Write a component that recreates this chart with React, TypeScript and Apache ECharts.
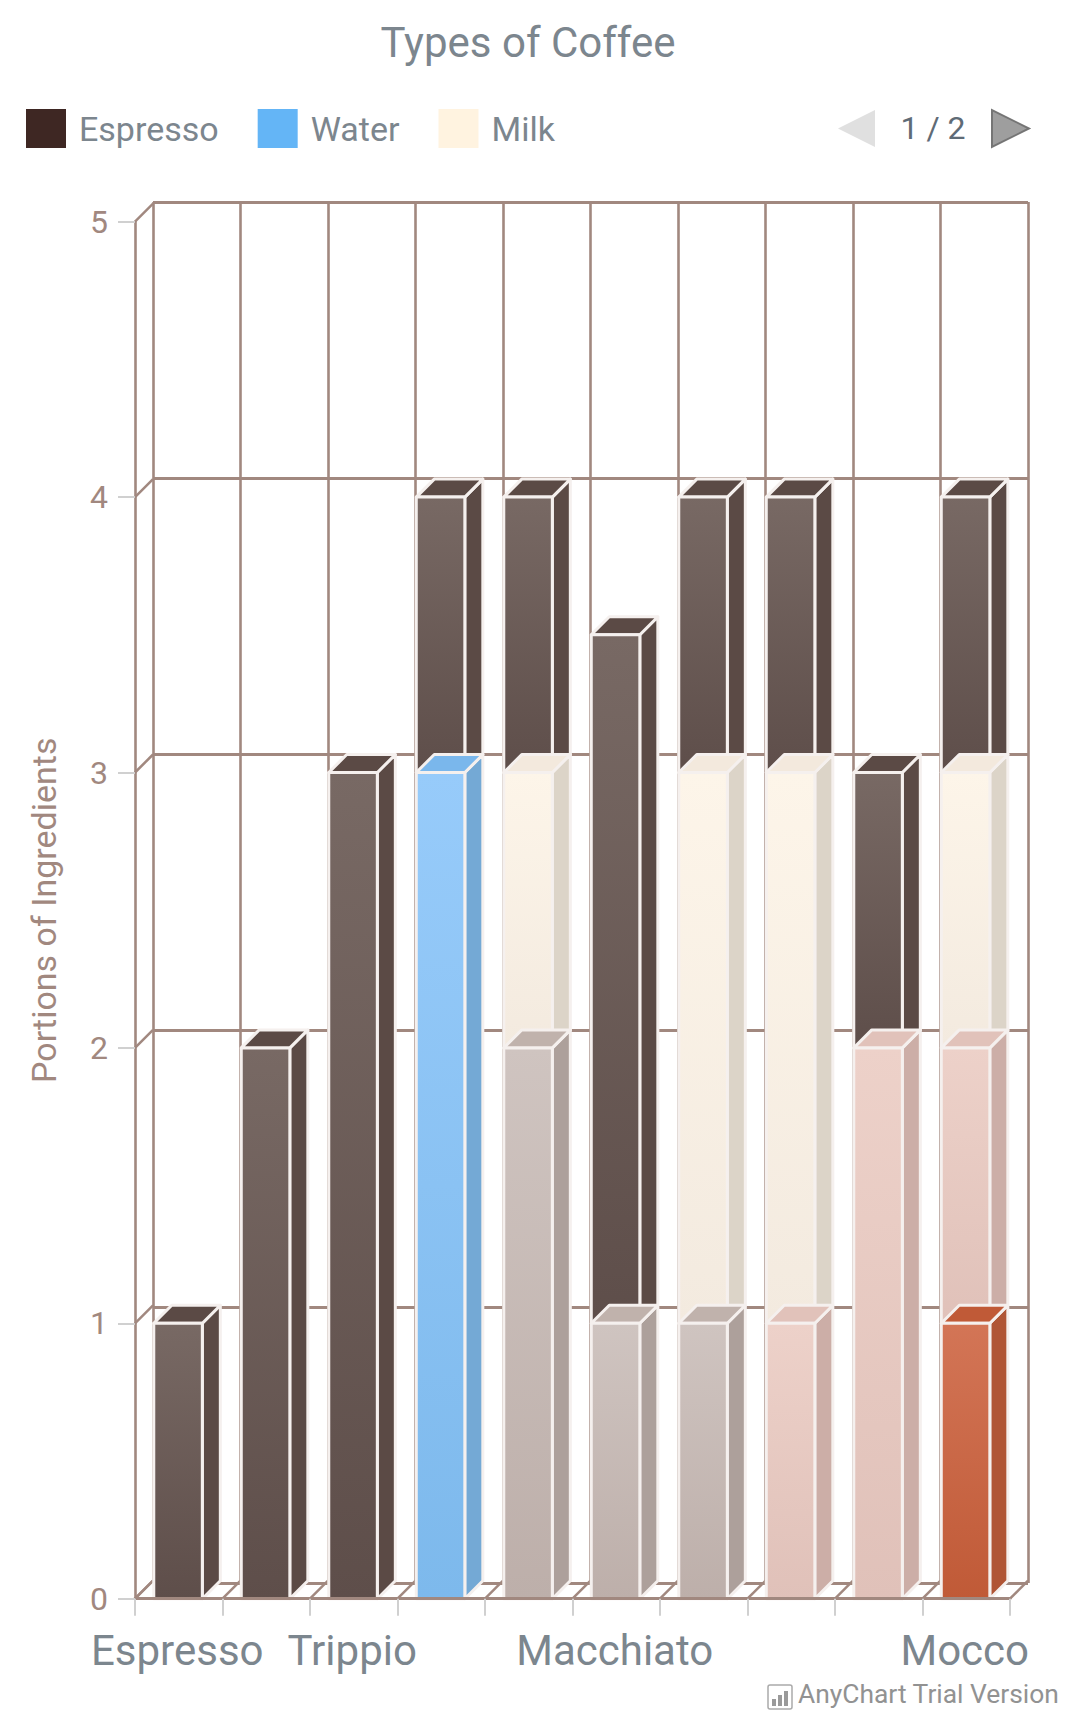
import React, { useEffect, useRef } from "react";
import * as echarts from "echarts";

const titleText = "Types of Coffee";
const yAxisTitle = "Portions of Ingredients";
const categories = ["Espresso", "", "Trippio", "", "", "Macchiato", "", "", "", "Mocco"];
const yTicks = [0, 1, 2, 3, 4, 5];
const legendNames = ["Espresso", "Water", "Milk"];

// portions per coffee, stack order is bottom to top
const chocolate = [0, 0, 0, 0, 0, 0, 0, 0, 0, 1];
const cream = [0, 0, 0, 0, 0, 0, 0, 1, 2, 1];
const foam = [0, 0, 0, 0, 2, 1, 1, 0, 0, 0];
const water = [0, 0, 0, 3, 0, 0, 0, 0, 0, 0];
const milk = [0, 0, 0, 0, 1, 0, 2, 2, 0, 1];
const espresso = [1, 2, 3, 1, 1, 2.5, 1, 1, 1, 1];

const stackOrder = [
  { name: "Chocolate", values: chocolate, legend: "#bf5a35", front: ["#d37556", "#c05a37"], side: "#b05535", top: "#c05a37" },
  { name: "Cream", values: cream, legend: "#e8c8c0", front: ["#edd1c9", "#e0c1b9"], side: "#ccaea7", top: "#e1c2ba" },
  { name: "Foam", values: foam, legend: "#c8bab5", front: ["#cfc4c0", "#bdafaa"], side: "#ada09b", top: "#c0b2ac" },
  { name: "Water", values: water, legend: "#64b5f6", front: ["#97cbfa", "#7db9ec"], side: "#74a9d5", top: "#7ab7ec" },
  { name: "Milk", values: milk, legend: "#fff3e0", front: ["#fdf5e9", "#f3eadf"], side: "#dcd4c8", top: "#f3e9dd" },
  { name: "Espresso", values: espresso, legend: "#3e2723", front: ["#786964", "#5e4e4a"], side: "#5b4a45", top: "#5b4a45" },
];

const BROWN = "#a1887f";
const GREY_TICK = "#d0d0d0";
const TEXT = "#7c868e";
const EDGE = "#f5f0ee";
const DX = 18;
const DY = 18;
const BAR_RATIO = 0.555;
const BAR_SHIFT = -0.7;

function buildBars() {
  const cumulative = categories.map(() => 0);
  const built = stackOrder.map((s) => {
    const data: number[][] = [];
    s.values.forEach((v, i) => {
      if (v > 0) data.push([i, cumulative[i], cumulative[i] + v]);
      cumulative[i] += v;
    });
    return { ...s, data };
  });
  return built.reverse();
}

function barSeries(s: any) {
  return {
    type: "custom",
    name: s.name,
    xAxisIndex: 0,
    yAxisIndex: 0,
    clip: false,
    z: 2,
    silent: true,
    itemStyle: { color: s.legend },
    encode: { x: 0, y: [1, 2] },
    data: s.data,
    renderItem: (_: any, api: any) => {
      const idx = api.value(0);
      const lo = api.coord([idx, api.value(1)]);
      const hi = api.coord([idx, api.value(2)]);
      const w = api.size([1, 0])[0] * BAR_RATIO;
      const x0 = lo[0] - w / 2 + BAR_SHIFT;
      const x1 = x0 + w;
      const edge = { stroke: EDGE, lineWidth: 3, lineJoin: "round" };
      return {
        type: "group",
        children: [
          {
            type: "polygon",
            shape: { points: [[x1, hi[1]], [x1 + DX, hi[1] - DY], [x1 + DX, lo[1] - DY], [x1, lo[1]]] },
            style: { fill: s.side, ...edge },
          },
          {
            type: "polygon",
            shape: { points: [[x0, hi[1]], [x0 + DX, hi[1] - DY], [x1 + DX, hi[1] - DY], [x1, hi[1]]] },
            style: { fill: s.top, ...edge },
          },
          {
            type: "rect",
            shape: { x: x0, y: hi[1], width: w, height: lo[1] - hi[1] },
            style: {
              fill: new echarts.graphic.LinearGradient(0, 0, 0, 1, [
                { offset: 0, color: s.front[0] },
                { offset: 1, color: s.front[1] },
              ]),
              ...edge,
            },
          },
        ],
      };
    },
  };
}

function floorDiagonals() {
  return {
    type: "custom",
    xAxisIndex: 0,
    yAxisIndex: 0,
    clip: false,
    z: 1,
    silent: true,
    data: [...categories.map((_, i) => [i]), [categories.length]],
    encode: { x: 0 },
    renderItem: (_: any, api: any) => {
      const band = api.size([1, 0])[0];
      const base = api.coord([0, 0]);
      const x = base[0] - band / 2 + api.value(0) * band;
      return {
        type: "line",
        shape: { x1: x, y1: base[1], x2: x + DX, y2: base[1] - DY },
        style: { stroke: BROWN, lineWidth: 2.5 },
      };
    },
  };
}

function wallDiagonals() {
  return {
    type: "custom",
    xAxisIndex: 0,
    yAxisIndex: 0,
    clip: false,
    z: 1,
    silent: true,
    data: yTicks.map((v) => [0, v]),
    encode: { x: 0, y: 1 },
    renderItem: (_: any, api: any) => {
      const band = api.size([1, 0])[0];
      const p = api.coord([0, api.value(1)]);
      const x = p[0] - band / 2;
      return {
        type: "line",
        shape: { x1: x, y1: p[1], x2: x + DX, y2: p[1] - DY },
        style: { stroke: BROWN, lineWidth: 2.5 },
      };
    },
  };
}

export default function App() {
  const ref = useRef<HTMLDivElement>(null);

  useEffect(() => {
    if (!ref.current) return;
    const chart = echarts.init(ref.current, undefined, { renderer: "svg" });
    const bars = buildBars();
    const legendColor = (n: string) => stackOrder.find((s) => s.name === n)!.legend;

    chart.setOption({
      animation: false,
      backgroundColor: "#ffffff",
      textStyle: { fontFamily: "Roboto" },
      title: {
        text: titleText,
        left: 528,
        textAlign: "center",
        top: 21,
        padding: 0,
        itemGap: 0,
        textStyle: { fontFamily: "Roboto", fontSize: 42, fontWeight: "normal", color: TEXT },
      },
      legend: {
        show: true,
        left: 26,
        top: 109,
        padding: 0,
        itemWidth: 40,
        itemHeight: 39,
        itemGap: 39,
        selectedMode: false,
        icon: "rect",
        data: legendNames.map((n) => ({ name: n, itemStyle: { color: legendColor(n), borderWidth: 0 } })),
        textStyle: { fontFamily: "Roboto", fontSize: 34, color: TEXT, padding: [0, 0, 0, 8] },
      },
      grid: [
        { left: 135, top: 221.7, width: 875, height: 1377 },
        { left: 153, top: 202, width: 875, height: 1381 },
      ],
      xAxis: [
        {
          type: "category",
          gridIndex: 0,
          data: categories,
          z: 3,
          axisLine: { show: true, lineStyle: { color: BROWN, width: 3 } },
          axisTick: { show: true, length: 17, alignWithLabel: false, lineStyle: { color: GREY_TICK, width: 2 }, interval: 0 },
          axisLabel: { show: true, interval: 0, margin: 31, fontFamily: "Roboto", fontSize: 42, color: TEXT, padding: [0, 3, 0, 0] },
          splitLine: { show: false },
        },
        {
          type: "category",
          gridIndex: 1,
          data: categories,
          axisLine: { show: false },
          axisTick: { show: false },
          axisLabel: { show: false },
          splitLine: { show: true, interval: 0, lineStyle: { color: BROWN, width: 2.6 } },
        },
      ],
      yAxis: [
        {
          type: "value",
          gridIndex: 0,
          min: 0,
          max: 5,
          interval: 1,
          name: yAxisTitle,
          nameLocation: "middle",
          nameGap: 74,
          nameTextStyle: { fontFamily: "Roboto", fontSize: 34, color: BROWN },
          z: 3,
          axisLine: { show: true, lineStyle: { color: BROWN, width: 2.6 } },
          axisTick: { show: true, length: 17, lineStyle: { color: GREY_TICK, width: 2 } },
          axisLabel: { margin: 27, fontFamily: "Roboto", fontSize: 32, color: BROWN, padding: [0, 0, 3, 0] },
          splitLine: { show: false },
        },
        {
          type: "value",
          gridIndex: 1,
          min: 0,
          max: 5,
          interval: 1,
          axisLine: { show: false },
          axisTick: { show: false },
          axisLabel: { show: false },
          splitLine: { show: true, lineStyle: { color: BROWN, width: 3 } },
        },
      ],
      series: [floorDiagonals(), wallDiagonals(), ...bars.map(barSeries)],
      graphic: [
        {
          type: "polygon",
          shape: { points: [[875, 110], [875, 147], [838, 128.5]] },
          style: { fill: "#e0e0e0" },
        },
        {
          type: "text",
          x: 933,
          y: 128,
          style: { text: "1 / 2", fontFamily: "Roboto", fontSize: 32, fill: "#5f6b76", textAlign: "center", textVerticalAlign: "middle" },
        },
        {
          type: "polygon",
          shape: { points: [[992, 110], [992, 147], [1029, 128.5]] },
          style: { fill: "#9e9e9e", stroke: "#757575", lineWidth: 2 },
        },
        {
          type: "rect",
          shape: { x: 768, y: 1685, width: 24, height: 24, r: 2 },
          style: { fill: "#ffffff", stroke: "#aaaaaa", lineWidth: 1.5 },
        },
        { type: "rect", shape: { x: 772, y: 1699, width: 4, height: 7 }, style: { fill: "#9a9a9a" } },
        { type: "rect", shape: { x: 778, y: 1695, width: 4, height: 11 }, style: { fill: "#9a9a9a" } },
        { type: "rect", shape: { x: 784, y: 1691, width: 4, height: 15 }, style: { fill: "#9a9a9a" } },
        {
          type: "text",
          x: 798,
          y: 1694,
          style: { text: "AnyChart Trial Version", fontFamily: "Roboto", fontSize: 26.4, fill: "#929292", textVerticalAlign: "middle" },
        },
      ],
    });

    return () => chart.dispose();
  }, []);

  return <div ref={ref} style={{ position: "absolute", left: 0, top: 0, width: 1074, height: 1725 }} />;
}
